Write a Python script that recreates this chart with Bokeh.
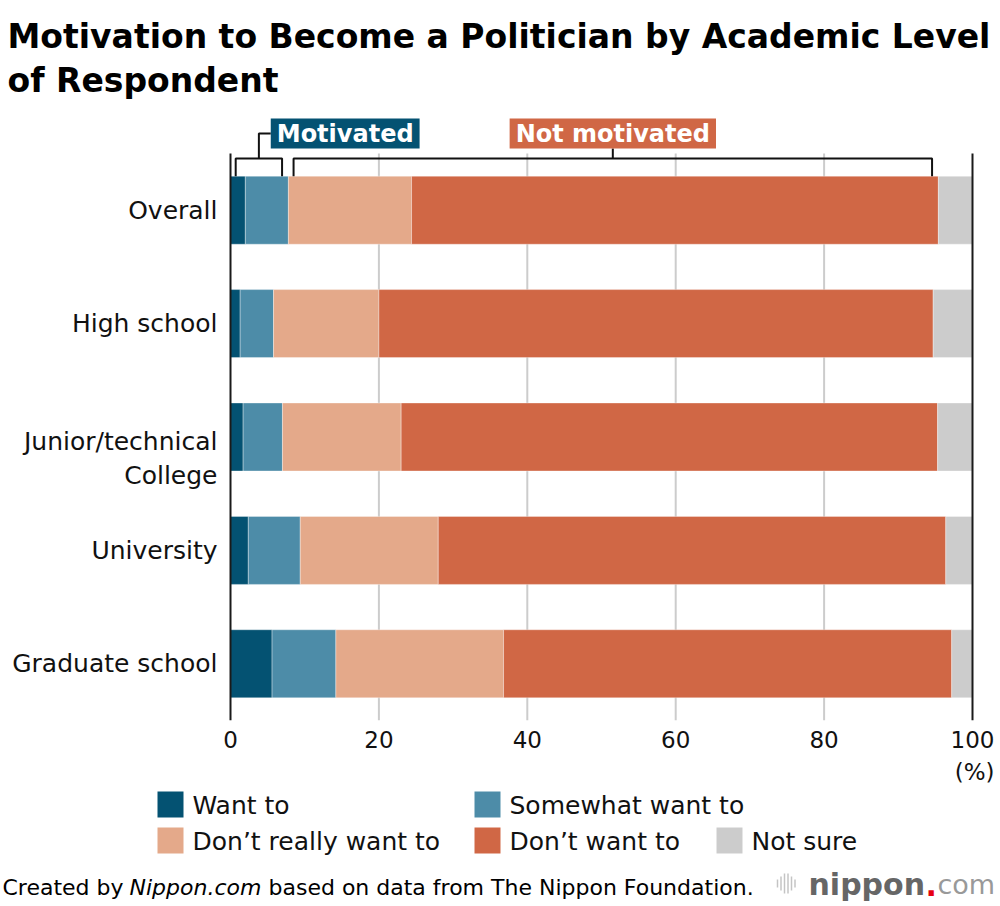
from bokeh.plotting import figure
from bokeh.layouts import column
from bokeh.models import Range1d, FixedTicker, Label, ColumnDataSource
from bokeh.embed import file_html
from bokeh.resources import INLINE

# ---------------- data ----------------
categories = ["Overall", "High school", "Junior/technical\nCollege", "University", "Graduate school"]
want_to = [2.0, 1.3, 1.7, 2.4, 5.6]
somewhat_want_to = [5.8, 4.5, 5.3, 7.0, 8.6]
dont_really_want_to = [16.6, 14.2, 16.0, 18.6, 22.6]
dont_want_to = [71.0, 74.7, 72.3, 68.4, 60.4]
not_sure = [4.6, 5.3, 4.7, 3.6, 2.8]
series_labels = ["Want to", "Somewhat want to", "Don\u2019t really want to", "Don\u2019t want to", "Not sure"]
x_ticks = [0, 20, 40, 60, 80, 100]
group_labels = ["Motivated", "Not motivated"]
title_lines = ["Motivation to Become a Politician by Academic Level", "of Respondent"]

# ---------------- style ----------------
FONT = "DejaVu Sans"
TXT = "#111111"
colors = ["#045272", "#4d8ca8", "#e4a98a", "#d06745", "#cccccc"]
W = 998
MAIN_H, BOT_H = 756, 150
X0, XSCALE = 230.0, 7.42      # page x of value 0, px per percent
Y0, YSCALE = 153.0, 113.4     # page y where the row bands start, px per row
FRAME_BOT = 720.0


def dx(px):
    return (px - X0) / XSCALE


def dy(py):
    return (py - Y0) / YSCALE


# ---------------- main chart ----------------
n = len(categories)
keys = ["want", "somewhat", "dont_really", "dont_want", "not_sure"]
src = ColumnDataSource(dict(
    y=[i + 0.5 for i in range(n)],
    want=want_to, somewhat=somewhat_want_to, dont_really=dont_really_want_to,
    dont_want=dont_want_to, not_sure=not_sure,
))

p = figure(width=W, height=MAIN_H, output_backend="svg", toolbar_location=None,
           x_range=Range1d(dx(0), dx(W)), y_range=Range1d(dy(FRAME_BOT), dy(0)),
           y_axis_location=None,
           min_border_left=0, min_border_right=0, min_border_top=0,
           min_border_bottom=int(MAIN_H - FRAME_BOT))
p.outline_line_color = None
p.background_fill_color = "white"
p.border_fill_color = "white"
p.xgrid.visible = False
p.ygrid.visible = False

# grid lines across the bar area only
inner = x_ticks[1:-1]
p.segment(x0=inner, y0=[0] * len(inner), x1=inner, y1=[n] * len(inner),
          line_color="#cccccc", line_width=2)

bars = p.hbar_stack(keys, y="y", height=0.6, color=colors, source=src,
                    line_color="white", line_alpha=0.35, line_width=1)

# edge lines at 0 and 100
p.segment(x0=[x_ticks[0], x_ticks[-1]], y0=[0, 0], x1=[x_ticks[0], x_ticks[-1]], y1=[n, n],
          line_color="#1a1a1a", line_width=2)

# x axis
p.xaxis.ticker = FixedTicker(ticks=x_ticks, minor_ticks=[])
p.xaxis.axis_line_color = None
p.xaxis.major_tick_line_color = None
p.xaxis.minor_tick_line_color = None
p.xaxis.major_tick_out = 0
p.xaxis.major_label_standoff = 10
p.xaxis.major_label_text_font = FONT
p.xaxis.major_label_text_font_size = "23px"
p.xaxis.major_label_text_color = TXT

# category labels
label_y = [i + 0.5 + (0.19 if "\n" in c else 0.0) for i, c in enumerate(categories)]
p.text(x=[dx(217)] * n, y=label_y, text=categories, text_align="right", text_baseline="middle",
       text_font={"value": FONT}, text_font_size="25px", text_color=TXT, text_line_height=1.2)

# brackets
mot_end = want_to[0] + somewhat_want_to[0]
tot_end = 100 - not_sure[0]
gap_l, gap_r = 0.7, 0.85
y_br, y_leg = dy(158), 0.5 - 0.3
a1, b1 = gap_l, mot_end - gap_r
a2, b2 = mot_end + gap_l, tot_end - gap_r
m1, m2 = (a1 + b1) / 2, (a2 + b2) / 2
y_lab = dy(133)
conn = m1 + 1.6
p.multi_line(xs=[[a1, a1, b1, b1], [a2, a2, b2, b2], [m1, m1, conn], [m2, m2]],
             ys=[[y_leg, y_br, y_br, y_leg], [y_leg, y_br, y_br, y_leg],
                 [y_br, y_lab, y_lab], [y_br, dy(148)]],
             line_color="#111111", line_width=2)

pad = dict(left=6, right=6, top=1, bottom=1)
p.add_layout(Label(x=conn, y=y_lab, text=group_labels[0], text_align="left", text_baseline="middle",
                   text_font=FONT, text_font_style="bold", text_font_size="24px", text_color="white",
                   background_fill_color=colors[0], padding=pad))
p.add_layout(Label(x=m2, y=y_lab, text=group_labels[1], text_align="center", text_baseline="middle",
                   text_font=FONT, text_font_style="bold", text_font_size="24px", text_color="white",
                   background_fill_color=colors[3], padding=pad))

# title
for line, base in zip(title_lines, [36, 80]):
    p.add_layout(Label(x=dx(7), y=dy(base), text=line, text_align="left", text_baseline="alphabetic",
                       text_font=FONT, text_font_style="bold", text_font_size="33px",
                       text_color="#000000"))

# ---------------- legend + footer figure ----------------
bot = figure(width=W, height=BOT_H, output_backend="svg", toolbar_location=None,
             x_range=Range1d(0, W), y_range=Range1d(BOT_H, 0),
             x_axis_location=None, y_axis_location=None, min_border=0)
bot.outline_line_color = None
bot.xgrid.visible = False
bot.ygrid.visible = False
bot.background_fill_color = "white"
bot.border_fill_color = "white"
B0 = MAIN_H   # page y of this figure's top

bot.add_layout(Label(x=994, y=771 - B0, text="(%)", text_align="right", text_baseline="middle",
                     text_font=FONT, text_font_size="23px", text_color=TXT))

sw = 26
sw_left = [157, 474, 157, 474, 716]
sw_top = [791, 791, 827, 827, 827]
bot.rect(x=[l + sw / 2 for l in sw_left], y=[t + sw / 2 - B0 for t in sw_top],
         width=sw, height=sw, fill_color=colors, line_color=None)
for l, t, lab in zip(sw_left, sw_top, series_labels):
    bot.add_layout(Label(x=l + sw + 9, y=t + sw / 2 - B0 + 1, text=lab, text_align="left",
                         text_baseline="middle", text_font=FONT, text_font_size="25px",
                         text_color=TXT))

foot_y = 887 - B0
foot_parts = [(2, "Created by", "normal"), (129, "Nippon.com", "italic"),
              (268, "based on data from The Nippon Foundation.", "normal")]
for fx, ftxt, fstyle in foot_parts:
    bot.add_layout(Label(x=fx, y=foot_y, text=ftxt, text_font=FONT, text_font_size="22px",
                         text_font_style=fstyle, text_color="#000000", text_baseline="middle"))

# logo
icon_x = [777, 780.5, 784, 787.5, 791, 794.5]
icon_h = [8, 14, 20, 20, 14, 8]
bot.segment(x0=icon_x, y0=[883 - B0 - h / 2 for h in icon_h], x1=icon_x,
            y1=[883 - B0 + h / 2 for h in icon_h], line_color="#c4c4c4", line_width=1.5)
logo_y = 884 - B0
bot.add_layout(Label(x=808, y=logo_y, text="nippon", text_font=FONT, text_font_size="30px",
                     text_font_style="bold", text_color="#666666", text_baseline="middle"))
bot.add_layout(Label(x=925, y=logo_y, text=".", text_font=FONT, text_font_size="30px",
                     text_font_style="bold", text_color="#e60012", text_baseline="middle"))
bot.add_layout(Label(x=937, y=logo_y, text="com", text_font=FONT, text_font_size="27px",
                     text_color="#999999", text_baseline="middle"))

layout = column(p, bot, spacing=0)
open("out.html", "w").write(file_html(layout, INLINE))
